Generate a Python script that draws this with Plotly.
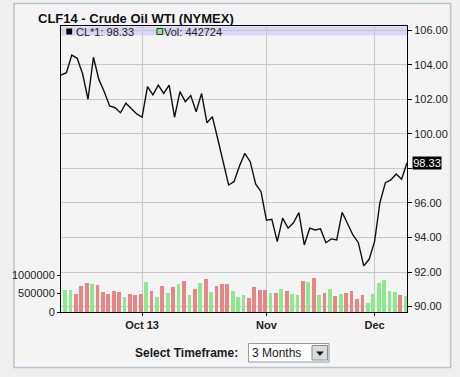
import plotly.graph_objects as go
import pandas as pd

# ---------------- data ----------------
holidays = ["2013-11-28"]
dates = [d.strftime("%Y-%m-%d") for d in pd.bdate_range("2013-09-10", "2013-12-10")
         if d.strftime("%Y-%m-%d") not in holidays]

close = [103.40, 103.54, 104.56, 104.37, 103.46, 102.00, 104.43, 103.15, 102.44, 101.61,
         101.51, 101.22, 101.77, 101.48, 101.15, 100.96, 102.73, 102.25, 102.82, 102.34,
         102.82, 100.96, 102.44, 101.86, 102.21, 101.28, 102.34, 100.64, 100.99, 99.70,
         98.37, 97.04, 97.23, 98.13, 98.87, 98.39, 97.10, 96.65, 95.00, 95.05,
         93.76, 95.12, 94.54, 94.85, 95.44, 93.57, 94.54, 94.44, 94.50, 93.70,
         93.92, 93.86, 95.46, 94.83, 94.15, 93.70, 92.36, 92.74, 93.76, 96.04,
         97.17, 97.33, 97.68, 97.37, 98.33]

volume = [None, 586000, 600000, 486000, 695000, 784000, 749000, 722000, 541000, 486000,
          559000, 541000, 405000, 486000, 465000, 486000, 811000, 568000, 416000, 695000,
          519000, 676000, 768000, 838000, 459000, 619000, 784000, 897000, 541000, 695000,
          768000, 749000, 565000, 405000, 451000, 378000, 673000, 586000, 586000, 514000,
          514000, 622000, 568000, 497000, 451000, 838000, 803000, 919000, 451000, 505000,
          632000, 424000, 497000, 524000, 568000, 362000, 470000, 254000, 478000, 795000,
          857000, 559000, 541000, 451000, 442724]

month_labels = ["Oct 13", "Nov", "Dec"]
price_ticks = [90, 92, 94, 96, 98, 100, 102, 104, 106]
vol_ticks = [0, 500000, 1000000]
title_text = "CLF14 - Crude Oil WTI (NYMEX)"
symbol = "CL*1"

# ---------------- derived ----------------
UP, DOWN = "#8ee88e", "#ea8585"
bar_colors = [UP] + [UP if close[i] >= close[i - 1] else DOWN for i in range(1, len(close))]

month_starts = []
for i, d in enumerate(dates):
    if i > 0 and d[5:7] != dates[i - 1][5:7]:
        month_starts.append(d)

# the last-price flag hides the tick label it sits on
price_ticktext = ["" if abs(v - close[-1]) < 1.0 else f"{v:.2f}" for v in price_ticks]

# ---------------- layout geometry ----------------
FW, FH = 460, 377
ML, MR, MT, MB = 53, 50, 26, 65
PW, PH = FW - ML - MR, FH - MT - MB


def px(x):
    return (x - ML) / PW


def py(y):
    return (FH - MB - y) / PH


FONT = "Liberation Sans, Arial, sans-serif"

fig = go.Figure()

fig.add_trace(go.Scatter(
    x=dates, y=close, mode="lines",
    line=dict(color="#111111", width=1.4),
    yaxis="y", showlegend=False, hoverinfo="x+y"))

fig.add_trace(go.Bar(
    x=dates, y=volume, marker=dict(color=bar_colors, line=dict(width=0)),
    width=0.7, offset=-0.6, yaxis="y2", showlegend=False))

shapes = [
    # outer panel
    dict(type="rect", xref="paper", yref="paper", layer="below",
         x0=px(4.5), x1=px(455), y0=py(367.5), y1=py(3.5),
         fillcolor="#f4f4f4", line=dict(color="#b7c6ce", width=1.5)),
    # info band at top of plot
    dict(type="rect", xref="paper", yref="paper", layer="below",
         x0=0, x1=1, y0=py(35.5), y1=py(26.5),
         fillcolor="#d7d7f3", line=dict(width=0)),
    # black legend square
    dict(type="rect", xref="paper", yref="paper",
         x0=px(58.5), x1=px(64.5), y0=py(34.5), y1=py(28.5),
         fillcolor="#000000", line=dict(width=0)),
    # green legend square
    dict(type="rect", xref="paper", yref="paper",
         x0=px(152), x1=px(158), y0=py(34.5), y1=py(28.5),
         fillcolor=UP, line=dict(color="#333333", width=1)),
    # dropdown box
    dict(type="rect", xref="paper", yref="paper",
         x0=px(246.5), x1=px(329.5), y0=py(362), y1=py(343.5),
         fillcolor="#ffffff", line=dict(color="#8a9aa4", width=1)),
    # dropdown button
    dict(type="rect", xref="paper", yref="paper",
         x0=px(312), x1=px(328), y0=py(360), y1=py(345.5),
         fillcolor="#dcdcdc", line=dict(color="#8c8c8c", width=1)),
    # arrow
    dict(type="path", xref="paper", yref="paper",
         path="M {} {} L {} {} L {} {} Z".format(px(316.8), py(351.8), px(323.6), py(351.8),
                                                 px(320.2), py(355.6)),
         fillcolor="#111111", line=dict(color="#111111", width=0.5)),
]

annotations = [
    dict(text="<b>" + title_text + "</b>", xref="paper", yref="paper",
         x=px(130), y=py(18.5), xanchor="center", yanchor="middle", showarrow=False,
         font=dict(family=FONT, size=13, color="#111111")),
    dict(text=f"{symbol}: {close[-1]:.2f}", xref="paper", yref="paper",
         x=px(98.3), y=py(31.5), xanchor="center", yanchor="middle", showarrow=False,
         font=dict(family=FONT, size=11, color="#222222")),
    dict(text=f"Vol: {volume[-1]}", xref="paper", yref="paper",
         x=px(188.8), y=py(31.5), xanchor="center", yanchor="middle", showarrow=False,
         font=dict(family=FONT, size=11, color="#222222")),
    dict(text=f"{close[-1]:.2f}", xref="paper", yref="y",
         x=1, y=close[-1], xanchor="left", yanchor="middle", xshift=5, showarrow=False,
         bgcolor="#000000", borderpad=0, width=28, height=12,
         font=dict(family=FONT, size=11, color="#ffffff")),
    dict(text="<b>Select Timeframe:</b>", xref="paper", yref="paper",
         x=px(182.3), y=py(353), xanchor="center", yanchor="middle", showarrow=False,
         font=dict(family=FONT, size=12, color="#1a1a1a")),
    dict(text="3 Months", xref="paper", yref="paper",
         x=px(275.8), y=py(353), xanchor="center", yanchor="middle", showarrow=False,
         font=dict(family=FONT, size=12, color="#1a1a1a")),
]

fig.update_layout(
    width=FW, height=FH, autosize=False,
    margin=dict(l=ML, r=MR, t=MT, b=MB, pad=0),
    paper_bgcolor="#efefef", plot_bgcolor="rgba(0,0,0,0)",
    font=dict(family=FONT, size=11, color="#222222"),
    bargap=0, showlegend=False,
    xaxis=dict(type="category", range=[0, len(dates) - 1],
               tickmode="array", tickvals=month_starts,
               ticktext=["<b>" + t + "</b>" for t in month_labels],
               showgrid=True, gridcolor="#c9c9c9", gridwidth=1,
               showline=True, linecolor="#000000", linewidth=1, mirror=True,
               ticks="outside", ticklen=3, tickcolor="#000000",
               tickfont=dict(family=FONT, size=11, color="#222222"),
               zeroline=False, fixedrange=True),
    yaxis=dict(side="right", range=[89.69, 106.24],
               tickmode="array", tickvals=price_ticks, ticktext=price_ticktext,
               showgrid=True, gridcolor="#c9c9c9", gridwidth=1,
               showline=True, linecolor="#000000", linewidth=1, mirror=True,
               ticks="outside", ticklen=4, tickcolor="#000000",
               tickfont=dict(family=FONT, size=11, color="#222222"),
               zeroline=False, fixedrange=True),
    yaxis2=dict(overlaying="y", side="left", range=[0, 7.73e6],
                tickmode="array", tickvals=vol_ticks, tickformat="d",
                showgrid=False, showline=True, linecolor="#000000", linewidth=1,
                ticks="outside", ticklen=3, tickcolor="#000000",
                tickfont=dict(family=FONT, size=11, color="#222222"),
                zeroline=False, fixedrange=True),
    shapes=shapes,
    annotations=annotations,
)

fig.write_html("out.html")
